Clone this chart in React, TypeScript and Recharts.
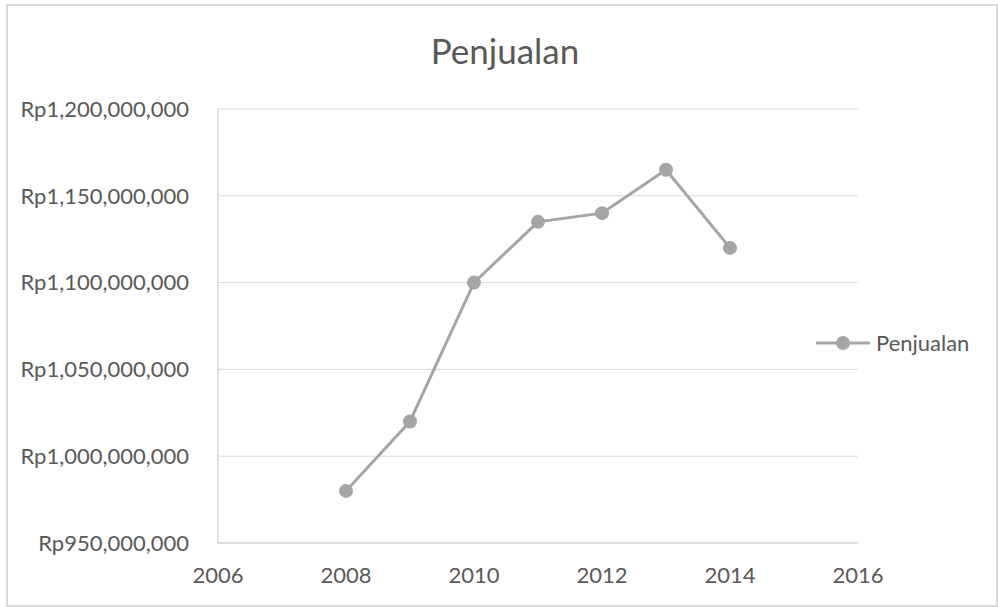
import { LineChart, Line, XAxis, YAxis, CartesianGrid } from "recharts";

const years = [2008, 2009, 2010, 2011, 2012, 2013, 2014];
const penjualan = [980000000, 1020000000, 1100000000, 1135000000, 1140000000, 1165000000, 1120000000];
const xTicks = [2006, 2008, 2010, 2012, 2014, 2016];
const yTicks = [950000000, 1000000000, 1050000000, 1100000000, 1150000000, 1200000000];

const data = years.map((year, i) => ({ year, penjualan: penjualan[i] }));

const FONT = "Lato, 'Open Sans', sans-serif";
const GREY = "#A5A5A5";
const TEXT = "#595959";

const formatRp = (v: number) => `Rp${v.toLocaleString("en-US")}`;

const LegendItem = () => (
  <div
    style={{
      position: "absolute",
      left: 816,
      top: 329,
      display: "flex",
      alignItems: "center",
      fontFamily: FONT,
      fontSize: 22,
      color: TEXT,
    }}
  >
    <svg width={54} height={24}>
      <line x1={0} y1={12} x2={54} y2={12} stroke={GREY} strokeWidth={3} />
      <circle cx={27} cy={12} r={7} fill={GREY} />
    </svg>
    <span style={{ marginLeft: 6 }}>Penjualan</span>
  </div>
);

const App = () => {
  return (
    <div style={{ position: "absolute", left: 0, top: 0, width: 998, height: 607, background: "#fff" }}>
      <div
        style={{
          position: "absolute",
          left: 6,
          top: 4,
          width: 988,
          height: 599,
          border: "2px solid #D9D9D9",
        }}
      />
      <div
        style={{
          position: "absolute",
          left: 0,
          width: 1010,
          top: 29,
          textAlign: "center",
          fontFamily: FONT,
          fontSize: 35,
          color: TEXT,
        }}
      >
        Penjualan
      </div>
      <LineChart
        width={998}
        height={607}
        data={data}
        margin={{ top: 109, right: 140, bottom: 0, left: 0 }}
        style={{ position: "absolute", left: 0, top: 0 }}
      >
        <CartesianGrid vertical={false} stroke="#D9D9D9" strokeWidth={1} />
        <XAxis
          dataKey="year"
          type="number"
          domain={[2006, 2016]}
          ticks={xTicks}
          tickSize={0}
          tickMargin={24}
          axisLine={{ stroke: "#D9D9D9", strokeWidth: 1.5 }}
          tick={{ fill: TEXT, fontSize: 22, fontFamily: FONT }}
          height={64}
        />
        <YAxis
          type="number"
          domain={[950000000, 1200000000]}
          ticks={yTicks}
          width={218}
          tickSize={0}
          tickMargin={29}
          axisLine={{ stroke: "#D9D9D9", strokeWidth: 1.5 }}
          tickFormatter={formatRp}
          tick={{ fill: TEXT, fontSize: 22, fontFamily: FONT }}
        />
        <Line
          type="linear"
          dataKey="penjualan"
          name="Penjualan"
          stroke={GREY}
          strokeWidth={3}
          dot={{ r: 7, fill: GREY, stroke: GREY, strokeWidth: 0 }}
          isAnimationActive={false}
        />
      </LineChart>
      <LegendItem />
    </div>
  );
};

export default App;
